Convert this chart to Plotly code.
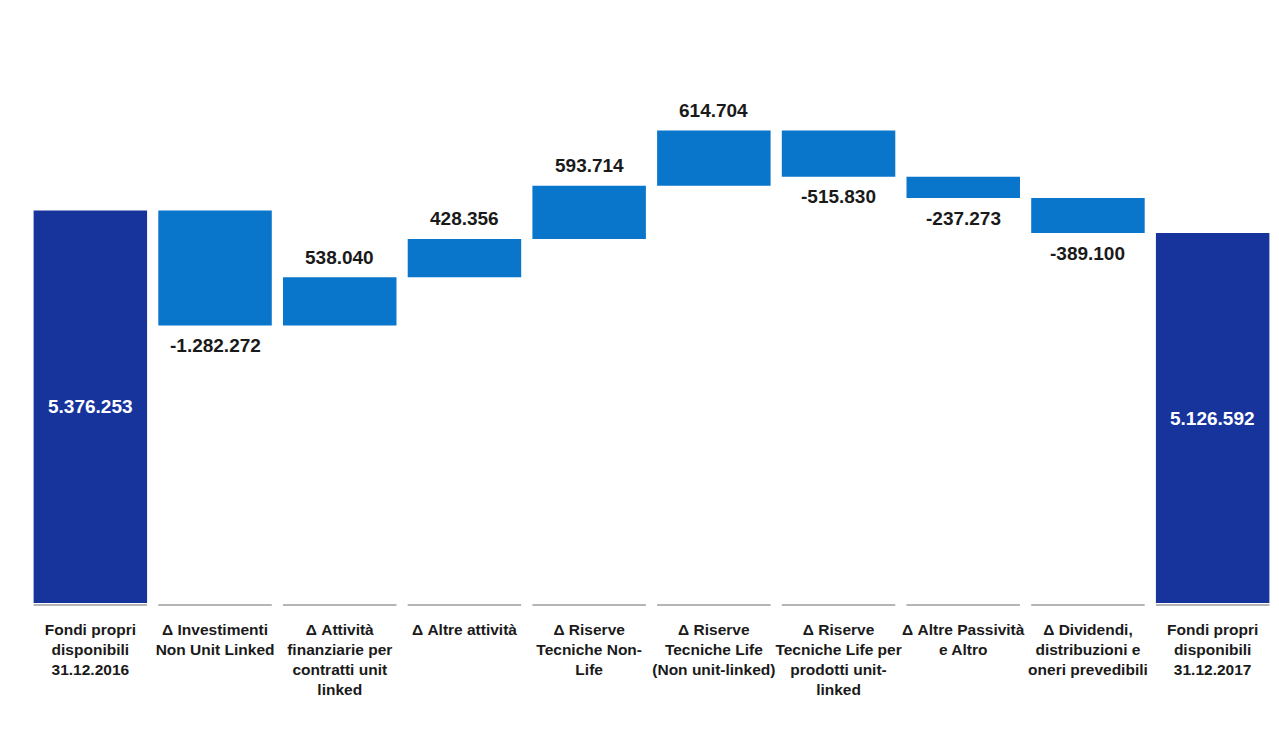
import plotly.graph_objects as go

categories = [
    "Fondi propri<br>disponibili<br>31.12.2016",
    "Δ Investimenti<br>Non Unit Linked",
    "Δ Attività<br>finanziarie per<br>contratti unit<br>linked",
    "Δ Altre attività",
    "Δ Riserve<br>Tecniche Non-<br>Life",
    "Δ Riserve<br>Tecniche Life<br>(Non unit-linked)",
    "Δ Riserve<br>Tecniche Life per<br>prodotti unit-<br>linked",
    "Δ Altre Passività<br>e Altro",
    "Δ Dividendi,<br>distribuzioni e<br>oneri prevedibili",
    "Fondi propri<br>disponibili<br>31.12.2017",
]
values = [5376253, -1282272, 538040, 428356, 593714, 614704, -515830, -237273, -389100, 5126592]
measures = ["absolute"] + ["relative"] * 8 + ["total"]

NAVY = "#17349d"
BLUE = "#0a76cb"
FONT = "Liberation Sans, Arial, sans-serif"
Y_RANGE = [1000000, 6610000]

x_idx = list(range(len(categories)))
fmt = lambda v: f"{v:,}".replace(",", ".")

fig = go.Figure(go.Waterfall(
    x=x_idx,
    y=values,
    measure=measures,
    width=0.91,
    increasing=dict(marker=dict(color=BLUE)),
    decreasing=dict(marker=dict(color=BLUE)),
    totals=dict(marker=dict(color=NAVY)),
    connector=dict(visible=False),
    hoverinfo="x+y",
))

annotations = []
running = 0
for i, (v, m) in enumerate(zip(values, measures)):
    if m == "relative":
        running += v
        annotations.append(dict(x=i, y=running, xref="x", yref="y", text=fmt(v),
                                showarrow=False, yshift=20 if v > 0 else -20,
                                font=dict(family=FONT, size=19, color="#1a1a1a", weight="bold")))
    else:
        running = v
        # white label centred in the visible part of the total bars
        annotations.append(dict(x=i, y=(Y_RANGE[0] + v) / 2, xref="x", yref="y",
                                text=fmt(v), showarrow=False,
                                font=dict(family=FONT, size=19, color="white", weight="bold")))

shapes = []
for i in x_idx:
    shapes.append(dict(type="line", xref="x", yref="paper", x0=i - 0.455, x1=i + 0.455,
                       y0=-0.004, y1=-0.004, line=dict(color="#b5b5b5", width=2), layer="below"))

fig.update_layout(
    width=1271, height=730,
    margin=dict(l=20, r=4, t=92, b=135),
    paper_bgcolor="white", plot_bgcolor="white",
    showlegend=False,
    shapes=shapes,
    annotations=annotations,
    xaxis=dict(tickmode="array", tickvals=x_idx, ticktext=[f"<b>{c}</b>" for c in categories],
               range=[-0.5, 9.5],
               showgrid=False, zeroline=False, showline=False, ticks="",
               ticklabelstandoff=15,
               tickfont=dict(family=FONT, size=15.5, color="#1a1a1a"), tickangle=0),
    yaxis=dict(range=Y_RANGE, visible=False, showgrid=False, zeroline=False),
)

fig.write_html("out.html")
